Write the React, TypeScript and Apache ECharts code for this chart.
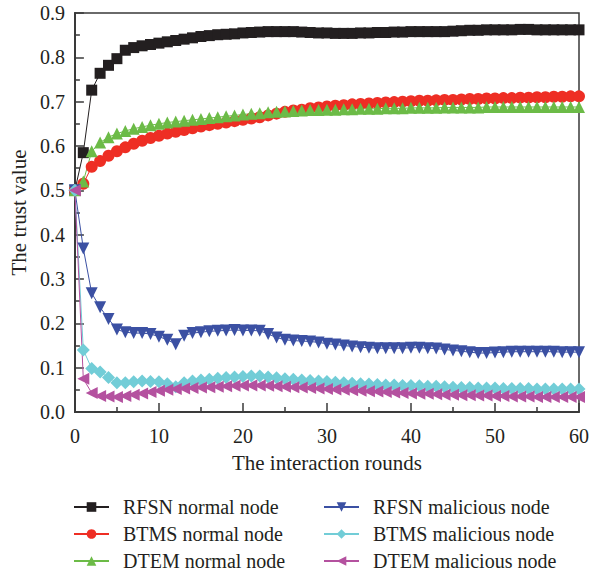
import React, { useEffect, useRef } from "react";
import * as echarts from "echarts";

const rounds: number[] = Array.from({ length: 61 }, (_, i) => i);

const rfsnNormal = [
  0.5, 0.585, 0.726, 0.764, 0.782, 0.797, 0.816, 0.822, 0.826, 0.829, 0.832,
  0.835, 0.838, 0.841, 0.844, 0.847, 0.849, 0.851, 0.852, 0.853, 0.855,
  0.856, 0.857, 0.858, 0.858, 0.858, 0.858, 0.857, 0.856, 0.855, 0.855,
  0.854, 0.854, 0.854, 0.855, 0.855, 0.856, 0.856, 0.857, 0.857, 0.858,
  0.858, 0.858, 0.858, 0.858, 0.859, 0.86, 0.861, 0.861, 0.862, 0.862,
  0.862, 0.862, 0.863, 0.863, 0.862, 0.862, 0.862, 0.862, 0.862, 0.862,
];
const btmsNormal = [
  0.5, 0.515, 0.553, 0.566, 0.578, 0.588, 0.597, 0.605, 0.612, 0.618, 0.623,
  0.628, 0.632, 0.636, 0.64, 0.644, 0.647, 0.65, 0.653, 0.656, 0.659,
  0.662, 0.665, 0.669, 0.673, 0.677, 0.68, 0.682, 0.685, 0.687, 0.689,
  0.691, 0.692, 0.694, 0.695, 0.696, 0.697, 0.698, 0.699, 0.7, 0.701,
  0.702, 0.702, 0.703, 0.704, 0.704, 0.705, 0.706, 0.706, 0.707, 0.707,
  0.708, 0.708, 0.709, 0.709, 0.71, 0.71, 0.711, 0.711, 0.712, 0.712,
];
const dtemNormal = [
  0.5, 0.52, 0.588, 0.608, 0.62, 0.628, 0.634, 0.639, 0.643, 0.647, 0.65,
  0.653, 0.655, 0.657, 0.659, 0.661, 0.663, 0.665, 0.667, 0.669, 0.671,
  0.673, 0.674, 0.676, 0.677, 0.678, 0.679, 0.68, 0.681, 0.681, 0.682,
  0.682, 0.683, 0.683, 0.684, 0.684, 0.684, 0.685, 0.685, 0.685, 0.686,
  0.686, 0.686, 0.686, 0.687, 0.687, 0.687, 0.687, 0.687, 0.688, 0.688,
  0.688, 0.688, 0.688, 0.688, 0.688, 0.688, 0.688, 0.688, 0.688, 0.688,
];
const rfsnMalicious = [
  0.5, 0.369, 0.268, 0.236, 0.21, 0.186, 0.18, 0.178, 0.178, 0.176, 0.17,
  0.163, 0.153, 0.172, 0.178, 0.18, 0.182, 0.183, 0.184, 0.185, 0.184,
  0.184, 0.183, 0.176, 0.168, 0.163, 0.161, 0.16, 0.159, 0.157, 0.154,
  0.152, 0.15, 0.148, 0.146, 0.145, 0.144, 0.144, 0.144, 0.144, 0.145,
  0.145, 0.144, 0.143, 0.141, 0.139, 0.137, 0.135, 0.133, 0.133, 0.134,
  0.135, 0.136, 0.136, 0.136, 0.136, 0.136, 0.136, 0.135, 0.135, 0.135,
];
const btmsMalicious = [
  0.5, 0.14, 0.098, 0.09, 0.078, 0.066, 0.066, 0.068, 0.07, 0.069, 0.068,
  0.064, 0.057, 0.066, 0.07, 0.072, 0.074, 0.076, 0.078, 0.079, 0.08,
  0.081, 0.081, 0.079, 0.077, 0.075, 0.074, 0.072, 0.071, 0.07, 0.069,
  0.067, 0.066, 0.065, 0.064, 0.063, 0.062, 0.061, 0.061, 0.06, 0.06,
  0.059, 0.058, 0.058, 0.057, 0.056, 0.055, 0.055, 0.054, 0.054, 0.054,
  0.053, 0.053, 0.053, 0.053, 0.052, 0.052, 0.052, 0.052, 0.052, 0.052,
];
const dtemMalicious = [
  0.5, 0.075, 0.043, 0.036, 0.035, 0.034, 0.036, 0.039, 0.042, 0.045, 0.048,
  0.05, 0.052, 0.053, 0.054, 0.055, 0.056, 0.057, 0.058, 0.059, 0.06,
  0.06, 0.06, 0.059, 0.058, 0.057, 0.056, 0.055, 0.054, 0.053, 0.052,
  0.051, 0.05, 0.049, 0.048, 0.047, 0.046, 0.045, 0.044, 0.043, 0.042,
  0.041, 0.041, 0.04, 0.039, 0.039, 0.038, 0.038, 0.037, 0.037, 0.036,
  0.036, 0.035, 0.035, 0.035, 0.034, 0.034, 0.034, 0.034, 0.034, 0.034,
];

const seriesNames = [
  "RFSN normal node",
  "BTMS normal node",
  "DTEM normal node",
  "RFSN malicious node",
  "BTMS malicious node",
  "DTEM malicious node",
];

const FONT = "Liberation Serif";
const TXT = "#231f20";

export default function App() {
  const ref = useRef<HTMLDivElement>(null);
  useEffect(() => {
    if (!ref.current) return;
    const chart = echarts.init(ref.current, undefined, { renderer: "svg" });
    const mk = (
      name: string,
      values: number[],
      color: string,
      symbol: string,
      size: number | number[],
      rotate = 0
    ) => ({
      name,
      type: "line",
      data: rounds.map((r, i) => [r, values[i]]),
      symbol,
      symbolSize: size,
      symbolRotate: rotate,
      showAllSymbol: true,
      color,
      lineStyle: { color, width: 1 },
      itemStyle: { color, borderWidth: 0 },
    });
    const legendBase = {
      orient: "vertical",
      top: 497,
      height: 81,
      padding: 0,
      itemWidth: 35,
      itemHeight: 12,
      itemGap: 7,
      textStyle: { fontFamily: FONT, fontSize: 20, color: TXT, lineHeight: 20, padding: [0, 0, 0, 9] },
    };
    chart.setOption({
      animation: false,
      textStyle: { fontFamily: FONT },
      grid: {
        left: 74,
        right: 12,
        top: 13,
        bottom: 166,
        show: true,
        borderColor: "#3a3a3a",
        borderWidth: 1.5,
      },
      xAxis: {
        type: "value",
        min: 0,
        max: 60,
        interval: 10,
        name: "The interaction rounds",
        nameLocation: "middle",
        nameGap: 40,
        nameTextStyle: { fontFamily: FONT, fontSize: 21, color: TXT },
        axisLine: { show: true, lineStyle: { color: "#3a3a3a", width: 2 } },
        axisTick: { show: true, inside: true, length: 9, lineStyle: { color: "#3a3a3a", width: 1.5 } },
        minorTick: { show: true, splitNumber: 2, length: 5, lineStyle: { color: "#3a3a3a", width: 1.5 } },
        axisLabel: { fontFamily: FONT, fontSize: 20, color: TXT, margin: 14 },
        splitLine: { show: false },
      },
      yAxis: {
        type: "value",
        min: 0,
        max: 0.9,
        interval: 0.1,
        name: "The trust value",
        nameLocation: "middle",
        nameGap: 39,
        nameTextStyle: { fontFamily: FONT, fontSize: 21, color: TXT },
        axisLine: { show: true, lineStyle: { color: "#3a3a3a", width: 2 } },
        axisTick: { show: true, inside: true, length: 9, lineStyle: { color: "#3a3a3a", width: 1.5 } },
        minorTick: { show: true, splitNumber: 2, length: 5, lineStyle: { color: "#3a3a3a", width: 1.5 } },
        axisLabel: {
          fontFamily: FONT,
          fontSize: 20,
          color: TXT,
          margin: 10,
          formatter: (v: number) => v.toFixed(1),
        },
        splitLine: { show: false },
      },
      legend: [
        { ...legendBase, data: seriesNames.slice(0, 3), left: 73 },
        { ...legendBase, data: seriesNames.slice(3), left: 323 },
      ],
      series: [
        mk(seriesNames[0], rfsnNormal, "#231f20", "rect", 11),
        mk(seriesNames[1], btmsNormal, "#ee2e24", "circle", 12),
        mk(seriesNames[2], dtemNormal, "#6cbb47", "triangle", 12),
        mk(seriesNames[3], rfsnMalicious, "#3b50a3", "triangle", 12, 180),
        mk(seriesNames[4], btmsMalicious, "#72cdd7", "diamond", [13, 13]),
        mk(seriesNames[5], dtemMalicious, "#b4519f", "triangle", 12, 90),
      ],
    });
    return () => chart.dispose();
  }, []);
  return <div ref={ref} style={{ width: 592, height: 578, position: "absolute", left: 0, top: 0 }} />;
}
